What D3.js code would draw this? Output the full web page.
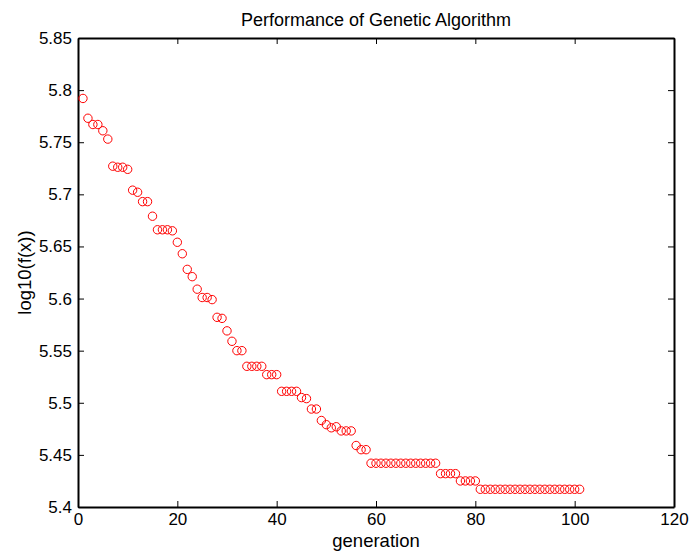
<!DOCTYPE html>
<html>
<head>
<meta charset="utf-8">
<script src="https://d3js.org/d3.v7.min.js"></script>
<style>
  body { margin: 0; background: white; }
  svg { font-family: "Liberation Sans", Arial, Helvetica, sans-serif; }
</style>
</head>
<body>
<script>
"use strict";

(function(){

  window.addEventListener("load", init);

  // log10(f(x)) for generation 1..101
  const fitness = [
    5.792, 5.773, 5.767, 5.767, 5.761, 5.753, 5.727, 5.726, 5.726, 5.724,
    5.704, 5.702, 5.693, 5.693, 5.679, 5.666, 5.666, 5.666, 5.665, 5.654,
    5.643, 5.628, 5.621, 5.609, 5.601, 5.601, 5.599, 5.582, 5.581, 5.569,
    5.559, 5.550, 5.550, 5.535, 5.535, 5.535, 5.535, 5.527, 5.527, 5.527,
    5.511, 5.511, 5.511, 5.511, 5.505, 5.504, 5.494, 5.494, 5.483, 5.479,
    5.476, 5.477, 5.473, 5.473, 5.473, 5.459, 5.455, 5.455, 5.442, 5.442,
    5.442, 5.442, 5.442, 5.442, 5.442, 5.442, 5.442, 5.442, 5.442, 5.442,
    5.442, 5.442, 5.432, 5.432, 5.432, 5.432, 5.425, 5.425, 5.425, 5.425,
    5.417, 5.417, 5.417, 5.417, 5.417, 5.417, 5.417, 5.417, 5.417, 5.417,
    5.417, 5.417, 5.417, 5.417, 5.417, 5.417, 5.417, 5.417, 5.417, 5.417,
    5.417
  ];

  const xTicks = [0, 20, 40, 60, 80, 100, 120];
  const yTicks = [5.4, 5.45, 5.5, 5.55, 5.6, 5.65, 5.7, 5.75, 5.8, 5.85];

  const measurements = {
    width: 689,
    height: 552,
    left: 78,
    right: 674,
    top: 38,
    bottom: 507
  };

  let svgContainer = "";

  function init() {
    svgContainer = d3.select("body").append("svg")
      .attr("width", measurements.width)
      .attr("height", measurements.height);

    let scaleX = d3.scaleLinear()
      .domain([0, 120])
      .range([measurements.left, measurements.right]);

    let scaleY = d3.scaleLinear()
      .domain([5.4, 5.85])
      .range([measurements.bottom, measurements.top]);

    drawAxes(scaleX, scaleY);
    plotData(scaleX, scaleY);
    drawLabels();
  }

  function drawAxes(scaleX, scaleY) {
    // MATLAB style: ticks point inward, on all four sides
    let fmt = d3.format("~g");

    let bottom = svgContainer.append("g")
      .attr("transform", "translate(0," + measurements.bottom + ")")
      .call(d3.axisBottom(scaleX).tickValues(xTicks).tickSizeInner(-6).tickSizeOuter(0).tickPadding(6).tickFormat(fmt));

    let top = svgContainer.append("g")
      .attr("transform", "translate(0," + measurements.top + ")")
      .call(d3.axisTop(scaleX).tickValues(xTicks).tickSizeInner(-6).tickSizeOuter(0).tickFormat(""));

    let left = svgContainer.append("g")
      .attr("transform", "translate(" + measurements.left + ",0)")
      .call(d3.axisLeft(scaleY).tickValues(yTicks).tickSizeInner(-6).tickSizeOuter(0).tickPadding(6).tickFormat(fmt));

    let right = svgContainer.append("g")
      .attr("transform", "translate(" + measurements.right + ",0)")
      .call(d3.axisRight(scaleY).tickValues(yTicks).tickSizeInner(-6).tickSizeOuter(0).tickFormat(""));

    [bottom, top, left, right].forEach(function(g) {
      g.select(".domain").attr("stroke", "#000").attr("stroke-width", 2);
      g.selectAll(".tick line").attr("stroke", "#000").attr("stroke-width", 1);
      g.selectAll("text")
        .attr("fill", "#000")
        .style("font-size", "17px")
        .style("font-family", "'Liberation Sans', Arial, sans-serif");
    });
  }

  function plotData(scaleX, scaleY) {
    svgContainer.selectAll(".point")
      .data(fitness)
      .enter()
      .append("circle")
        .attr("class", "point")
        .attr("cx", function(d, i) { return scaleX(i + 1); })
        .attr("cy", function(d) { return scaleY(d); })
        .attr("r", 4.2)
        .attr("fill", "none")
        .attr("stroke", "#ff0000")
        .attr("stroke-width", 1);
  }

  function drawLabels() {
    let cx = (measurements.left + measurements.right) / 2;
    let cy = (measurements.top + measurements.bottom) / 2;

    svgContainer.append("text")
      .attr("x", cx)
      .attr("y", 26)
      .attr("text-anchor", "middle")
      .style("font-size", "18px")
      .text("Performance of Genetic Algorithm");

    svgContainer.append("text")
      .attr("x", cx)
      .attr("y", 547)
      .attr("text-anchor", "middle")
      .style("font-size", "18.5px")
      .text("generation");

    svgContainer.append("text")
      .attr("transform", "translate(31," + cy + ") rotate(-90)")
      .attr("text-anchor", "middle")
      .style("font-size", "18.5px")
      .text("log10(f(x))");
  }

})()
</script>
</body>
</html>
